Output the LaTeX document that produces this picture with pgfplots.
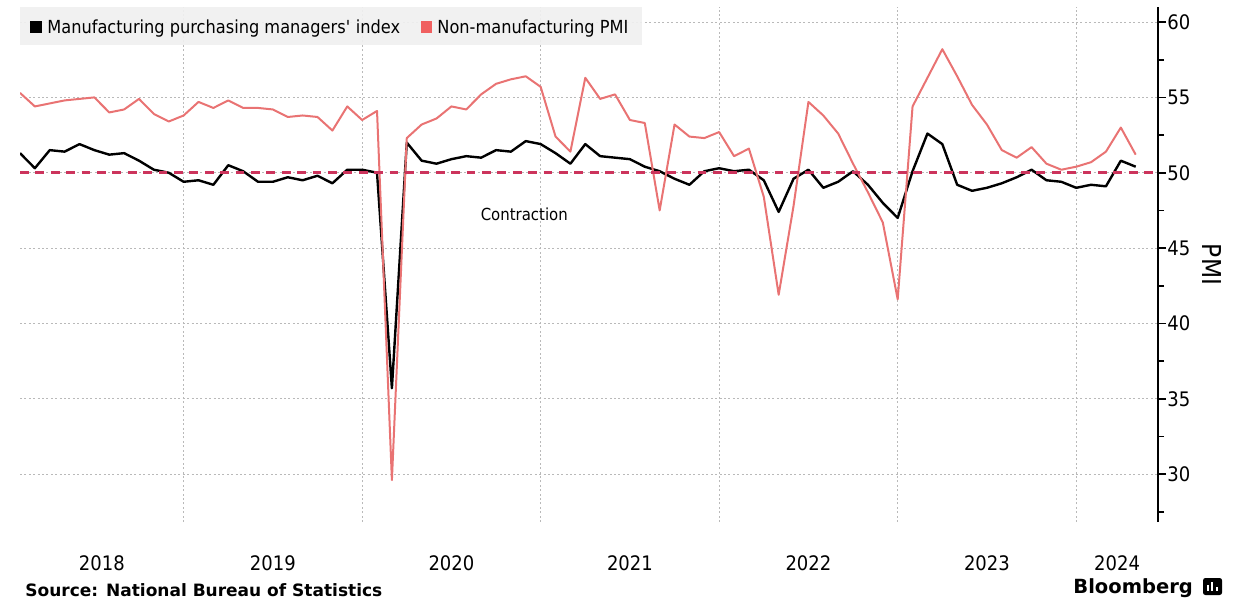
\documentclass[border=0pt]{standalone}
\usepackage{pgfplots}
\pgfplotsset{compat=1.18}
\usepackage{pgfplotstable}
\usepackage{fontspec}
\setmainfont{DejaVu Sans}[FakeStretch=0.9]
\newfontfamily\widefont{DejaVu Sans}

\definecolor{nonmfg}{RGB}{233,115,115}
\definecolor{nonmfgkey}{RGB}{240,96,96}
\definecolor{threshold}{RGB}{204,52,92}
\definecolor{keybg}{RGB}{240,240,240}
\definecolor{gridgray}{RGB}{185,185,185}

% China official PMIs, monthly; t = months since 1 Jan 2018 (value plotted at month end)
\pgfplotstableread{
t  mfg   nonmfg
1  51.3  55.3
2  50.3  54.4
3  51.5  54.6
4  51.4  54.8
5  51.9  54.9
6  51.5  55.0
7  51.2  54.0
8  51.3  54.2
9  50.8  54.9
10 50.2  53.9
11 50.0  53.4
12 49.4  53.8
13 49.5  54.7
14 49.2  54.3
15 50.5  54.8
16 50.1  54.3
17 49.4  54.3
18 49.4  54.2
19 49.7  53.7
20 49.5  53.8
21 49.8  53.7
22 49.3  52.8
23 50.2  54.4
24 50.2  53.5
25 50.0  54.1
26 35.7  29.6
27 52.0  52.3
28 50.8  53.2
29 50.6  53.6
30 50.9  54.4
31 51.1  54.2
32 51.0  55.2
33 51.5  55.9
34 51.4  56.2
35 52.1  56.4
36 51.9  55.7
37 51.3  52.4
38 50.6  51.4
39 51.9  56.3
40 51.1  54.9
41 51.0  55.2
42 50.9  53.5
43 50.4  53.3
44 50.1  47.5
45 49.6  53.2
46 49.2  52.4
47 50.1  52.3
48 50.3  52.7
49 50.1  51.1
50 50.2  51.6
51 49.5  48.4
52 47.4  41.9
53 49.6  47.8
54 50.2  54.7
55 49.0  53.8
56 49.4  52.6
57 50.1  50.6
58 49.2  48.7
59 48.0  46.7
60 47.0  41.6
61 50.1  54.4
62 52.6  56.3
63 51.9  58.2
64 49.2  56.4
65 48.8  54.5
66 49.0  53.2
67 49.3  51.5
68 49.7  51.0
69 50.2  51.7
70 49.5  50.6
71 49.4  50.2
72 49.0  50.4
73 49.2  50.7
74 49.1  51.4
75 50.8  53.0
76 50.4  51.2
}\pmi

\begin{document}
\begin{tikzpicture}
\path[use as bounding box] (0,0) rectangle (622.5pt,-299pt);
\begin{axis}[
  at={(10pt,-261pt)}, anchor=south west,
  scale only axis, width=569pt, height=257.5pt,
  xmin=1, xmax=77.5, ymin=26.82, ymax=61,
  axis x line*=bottom, axis y line*=right,
  x axis line style={draw=none},
  y axis line style={line width=1pt, -},
  xtick={6.5,18,30,42,54,66,74.75},
  xticklabels={2018,2019,2020,2021,2022,2023,2024},
  minor xtick={12,24,36,48,60,72},
  xtick style={draw=none},
  minor x tick style={draw=none},
  xminorgrids=true, ymajorgrids=true,
  ytick={30,35,40,45,50,55,60},
  minor ytick={27.5,32.5,37.5,42.5,47.5,52.5,57.5},
  tick align=outside,
  major tick length=4pt, minor tick length=3pt,
  y tick style={black, line width=0.8pt},
  grid style={gridgray, line width=0.5pt, dash pattern=on 1pt off 1.2pt},
  minor grid style={gridgray, line width=0.5pt, dash pattern=on 1pt off 1.2pt},
  /pgf/number format/assume math mode=true,
  ticklabel style={font=\fontsize{10pt}{12pt}\selectfont},
  yticklabel style={anchor=west, inner sep=0pt, xshift=0.5pt},
  xticklabel style={anchor=base, inner sep=0pt, yshift=-20pt},
  ylabel={PMI},
  every axis y label/.style={at={(rel axis cs:1,0.5)}, xshift=27pt, rotate=-90,
    anchor=center, font=\fontsize{13pt}{15pt}\selectfont},
  line join=round,
]
\addplot[black, line width=1.2pt, mark=none] table[x=t, y=mfg] {\pmi};
\addplot[nonmfg, line width=1pt, mark=none] table[x=t, y=nonmfg] {\pmi};
\addplot[threshold, line width=1.6pt, dash pattern=on 4.4pt off 3.3pt, mark=none]
  coordinates {(1,50) (77.5,50)};
\node[anchor=base, inner sep=0pt, font=\fontsize{8.3pt}{10pt}\selectfont]
  at (axis cs:34.9,46.8) {Contraction};
\end{axis}

% key
\fill[keybg, fill opacity=0.92] (10pt,-3.5pt) rectangle (321pt,-22.5pt);
\fill[black] (15pt,-10.5pt) rectangle (21pt,-16.5pt);
\node[anchor=base west, inner sep=0pt, font=\fontsize{9pt}{11pt}\selectfont]
  at (23.5pt,-17pt) {Manufacturing purchasing managers\textquotesingle\ index};
\fill[nonmfgkey] (210.5pt,-10.5pt) rectangle (216pt,-16.5pt);
\node[anchor=base west, inner sep=0pt, font=\fontsize{9pt}{11pt}\selectfont]
  at (218.5pt,-17pt) {Non-manufacturing PMI};

% footer
\node[anchor=base west, inner sep=0pt, font={\widefont\bfseries\fontsize{8.5pt}{10pt}\selectfont}]
  at (12.5pt,-298pt) {Source: National Bureau of Statistics};
\node[anchor=base west, inner sep=0pt, font={\widefont\bfseries\fontsize{9.75pt}{11pt}\selectfont}]
  at (536.5pt,-296.5pt) {Bloomberg};
\fill[black, rounded corners=1.2pt] (601.5pt,-289pt) rectangle (611pt,-297.5pt);
\fill[white] (603.6pt,-295.5pt) rectangle (604.6pt,-292.5pt);
\fill[white] (605.7pt,-295.5pt) rectangle (606.7pt,-290.8pt);
\fill[white] (607.8pt,-295.5pt) rectangle (608.8pt,-293.3pt);
\end{tikzpicture}
\end{document}
